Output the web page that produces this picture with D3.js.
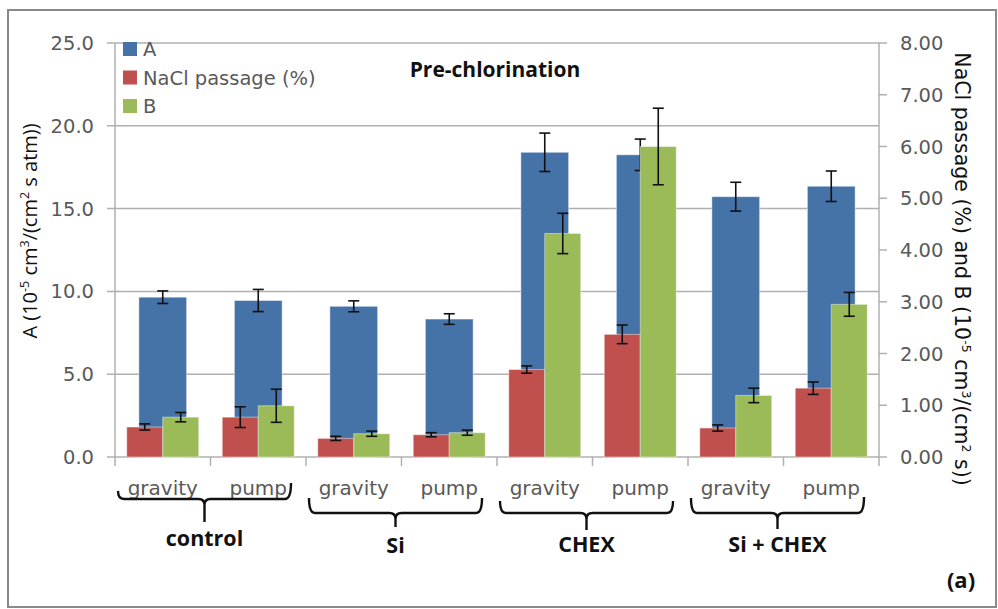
<!DOCTYPE html>
<html>
<head>
<meta charset="utf-8">
<script src="https://cdn.jsdelivr.net/npm/d3@7"></script>
<style>
  html, body { margin: 0; padding: 0; background: #fff; }
  svg { display: block; font-family: "Open Sans", "Noto Sans", sans-serif; }
  .reg { font-family: "DejaVu Sans", "Open Sans", sans-serif; }
</style>
</head>
<body>
<svg id="chart" width="998" height="609"></svg>
<script>
// Membrane performance before chlorination: water permeability A (left axis),
// NaCl passage and salt permeability B (right axis), with standard deviations.
const categories = ["gravity", "pump", "gravity", "pump", "gravity", "pump", "gravity", "pump"];
const groups = ["control", "Si", "CHEX", "Si + CHEX"];

const aValues = [9.65, 9.45, 9.10, 8.33, 18.40, 18.25, 15.72, 16.35];
const aErrors = [0.38, 0.67, 0.33, 0.32, 1.16, 0.95, 0.87, 0.92];

const naclValues = [0.58, 0.77, 0.36, 0.43, 1.69, 2.37, 0.56, 1.33];
const naclErrors = [0.06, 0.20, 0.04, 0.04, 0.07, 0.18, 0.06, 0.12];

const bValues = [0.77, 0.99, 0.45, 0.47, 4.32, 6.00, 1.19, 2.95];
const bErrors = [0.09, 0.32, 0.05, 0.05, 0.39, 0.74, 0.14, 0.23];

const leftTicks = [0, 5, 10, 15, 20, 25];
const rightTicks = [0, 1, 2, 3, 4, 5, 6, 7, 8];
const seriesNames = ["A", "NaCl passage (%)", "B"];

const COLORS = { A: "#4572a7", NaCl: "#c0504d", B: "#9bbb59" };
const GRID = "#b0b0b0";
const LABEL = "#595959";

const svg = d3.select("#chart");

// outer frame
svg.append("rect")
  .attr("x", 8).attr("y", 10).attr("width", 988).attr("height", 597)
  .attr("fill", "none").attr("stroke", "#8a8a8a").attr("stroke-width", 2);

const plot = { left: 115, right: 879, top: 43, bottom: 457 };

const x = d3.scaleBand()
  .domain(d3.range(categories.length))
  .range([plot.left, plot.right])
  .padding(0);

const yL = d3.scaleLinear().domain([0, 25]).range([plot.bottom, plot.top]);
const yR = d3.scaleLinear().domain([0, 8]).range([plot.bottom, plot.top]);

// secondary-axis bars sit side by side inside each category
const inner = d3.scaleBand()
  .domain(["NaCl", "B"])
  .range([0, x.bandwidth()])
  .paddingInner(0)
  .paddingOuter(0.326);

const primaryWidth = x.bandwidth() / 2;

// gridlines (extend left of the axis as ticks)
svg.append("g").selectAll("line")
  .data(leftTicks)
  .join("line")
  .attr("x1", plot.left - 8).attr("x2", plot.right)
  .attr("y1", d => yL(d)).attr("y2", d => yL(d))
  .attr("stroke", GRID).attr("stroke-width", 1.5);

// left tick labels
svg.append("g").selectAll("text")
  .data(leftTicks)
  .join("text")
  .attr("class", "reg")
  .attr("x", 94).attr("y", d => yL(d))
  .attr("dy", "0.36em")
  .attr("text-anchor", "end")
  .attr("font-size", 19.5)
  .attr("fill", LABEL)
  .text(d => d3.format(".1f")(d));

// axis lines
svg.append("line")
  .attr("x1", plot.left).attr("x2", plot.left)
  .attr("y1", plot.top).attr("y2", plot.bottom)
  .attr("stroke", GRID).attr("stroke-width", 1.5);
svg.append("line")
  .attr("x1", plot.right).attr("x2", plot.right)
  .attr("y1", plot.top).attr("y2", plot.bottom)
  .attr("stroke", GRID).attr("stroke-width", 1.5);

// right axis ticks and labels
svg.append("g").selectAll("line")
  .data(rightTicks)
  .join("line")
  .attr("x1", plot.right).attr("x2", plot.right + 8)
  .attr("y1", d => yR(d)).attr("y2", d => yR(d))
  .attr("stroke", GRID).attr("stroke-width", 1.5);
svg.append("g").selectAll("text")
  .data(rightTicks)
  .join("text")
  .attr("class", "reg")
  .attr("x", 900).attr("y", d => yR(d))
  .attr("dy", "0.36em")
  .attr("font-size", 19.5)
  .attr("fill", LABEL)
  .text(d => d3.format(".2f")(d));

// category ticks below the baseline
svg.append("g").selectAll("line")
  .data(d3.range(categories.length + 1))
  .join("line")
  .attr("x1", i => plot.left + i * x.step())
  .attr("x2", i => plot.left + i * x.step())
  .attr("y1", plot.bottom).attr("y2", plot.bottom + 9)
  .attr("stroke", GRID).attr("stroke-width", 1.5);

const idx = d3.range(categories.length);

// A bars (primary axis)
svg.append("g").selectAll("rect")
  .data(idx)
  .join("rect")
  .attr("x", i => x(i) + (x.bandwidth() - primaryWidth) / 2)
  .attr("width", primaryWidth)
  .attr("y", i => yL(aValues[i]))
  .attr("height", i => yL(0) - yL(aValues[i]))
  .attr("fill", COLORS.A)
  .attr("stroke", "rgba(255,255,255,0.45)").attr("stroke-width", 1);

function errorBars(g, cx, value, err, scale) {
  g.selectAll("g")
    .data(idx)
    .join("g")
    .each(function (i) {
      const el = d3.select(this);
      const c = cx(i);
      const hi = scale(value[i] + err[i]);
      const lo = scale(value[i] - err[i]);
      el.append("line").attr("x1", c).attr("x2", c).attr("y1", hi).attr("y2", lo);
      el.append("line").attr("x1", c - 5.5).attr("x2", c + 5.5).attr("y1", hi).attr("y2", hi);
      el.append("line").attr("x1", c - 5.5).attr("x2", c + 5.5).attr("y1", lo).attr("y2", lo);
    })
    .attr("stroke", "#111").attr("stroke-width", 1.6);
}

errorBars(svg.append("g"), i => x(i) + x.bandwidth() / 2, aValues, aErrors, yL);

// NaCl passage and B bars (secondary axis)
const secondary = [
  { key: "NaCl", values: naclValues, errors: naclErrors },
  { key: "B", values: bValues, errors: bErrors }
];

secondary.forEach(s => {
  svg.append("g").selectAll("rect")
    .data(idx)
    .join("rect")
    .attr("x", i => x(i) + inner(s.key))
    .attr("width", inner.bandwidth())
    .attr("y", i => yR(s.values[i]))
    .attr("height", i => yR(0) - yR(s.values[i]))
    .attr("fill", COLORS[s.key])
    .attr("stroke", "rgba(255,255,255,0.45)").attr("stroke-width", 1);
});
secondary.forEach(s => {
  errorBars(svg.append("g"), i => x(i) + inner(s.key) + inner.bandwidth() / 2, s.values, s.errors, yR);
});

// category labels
svg.append("g").selectAll("text")
  .data(idx)
  .join("text")
  .attr("class", "reg")
  .attr("x", i => x(i) + x.bandwidth() / 2)
  .attr("y", 495)
  .attr("text-anchor", "middle")
  .attr("font-size", 20)
  .attr("fill", LABEL)
  .text(i => categories[i]);

// group braces and labels
const braceLevels = [
  { top: [491, 483], bar: 499, tip: 522, label: 546 },
  { top: [498, 498], bar: 513, tip: 527, label: 553 },
  { top: [501, 501], bar: 513, tip: 530, label: 552 },
  { top: [498, 497], bar: 513, tip: 529, label: 552 }
];
groups.forEach((name, gi) => {
  const lv = braceLevels[gi];
  const x0 = x(gi * 2) + 3;
  const x1 = x(gi * 2 + 1) + x.bandwidth() - 15;
  const xc = (x0 + x1) / 2;
  const r = 6;
  const p = d3.path();
  p.moveTo(x0, lv.top[0]);
  p.quadraticCurveTo(x0, lv.bar, x0 + r, lv.bar);
  p.lineTo(xc - r, lv.bar);
  p.quadraticCurveTo(xc, lv.bar, xc, lv.bar + r);
  p.lineTo(xc, lv.tip);
  p.moveTo(x1, lv.top[1]);
  p.quadraticCurveTo(x1, lv.bar, x1 - r, lv.bar);
  p.lineTo(xc + r, lv.bar);
  p.quadraticCurveTo(xc, lv.bar, xc, lv.bar + r);
  svg.append("path")
    .attr("d", p.toString())
    .attr("fill", "none")
    .attr("stroke", "#111")
    .attr("stroke-width", 2.4);
  svg.append("text")
    .attr("x", xc).attr("y", lv.label)
    .attr("text-anchor", "middle")
    .attr("font-size", 21.5).attr("font-weight", 700)
    .attr("fill", "#111")
    .text(name);
});

// legend
const legend = svg.append("g");
seriesNames.forEach((name, i) => {
  const cy = 49 + i * 28.5;
  legend.append("rect")
    .attr("x", 123).attr("y", cy - 7).attr("width", 14).attr("height", 14)
    .attr("fill", [COLORS.A, COLORS.NaCl, COLORS.B][i]);
  legend.append("text")
    .attr("class", "reg")
    .attr("x", 143).attr("y", cy).attr("dy", "0.36em")
    .attr("font-size", 19.5).attr("fill", LABEL)
    .text(name);
});

// chart title
svg.append("text")
  .attr("x", 495).attr("y", 77)
  .attr("text-anchor", "middle")
  .attr("font-size", 21).attr("font-weight", 700)
  .attr("fill", "#111")
  .text("Pre-chlorination");

// axis titles with superscripts
function richTitle(sel, parts) {
  parts.forEach(([t, sup]) => {
    const ts = sel.append("tspan").text(t);
    if (sup) ts.attr("baseline-shift", "super").attr("font-size", 12.5);
  });
}

const leftTitle = svg.append("text")
  .attr("transform", "translate(37,231) rotate(-90)")
  .attr("text-anchor", "middle")
  .attr("font-size", 20).attr("fill", "#111");
richTitle(leftTitle, [["A (10"], ["-5", true], [" cm"], ["3", true], ["/(cm"], ["2", true], [" s atm))"]]);

const rightTitle = svg.append("text")
  .attr("class", "reg")
  .attr("transform", "translate(955,269) rotate(90)")
  .attr("text-anchor", "middle")
  .attr("font-size", 20.5).attr("fill", "#111");
richTitle(rightTitle, [["NaCl passage (%) and B (10"], ["-5", true], [" cm"], ["3", true], ["/(cm"], ["2", true], [" s))"]]);

// panel label
svg.append("text")
  .attr("x", 961).attr("y", 588)
  .attr("text-anchor", "middle")
  .attr("font-size", 22).attr("font-weight", 700)
  .attr("fill", "#111")
  .text("(a)");
</script>
</body>
</html>
